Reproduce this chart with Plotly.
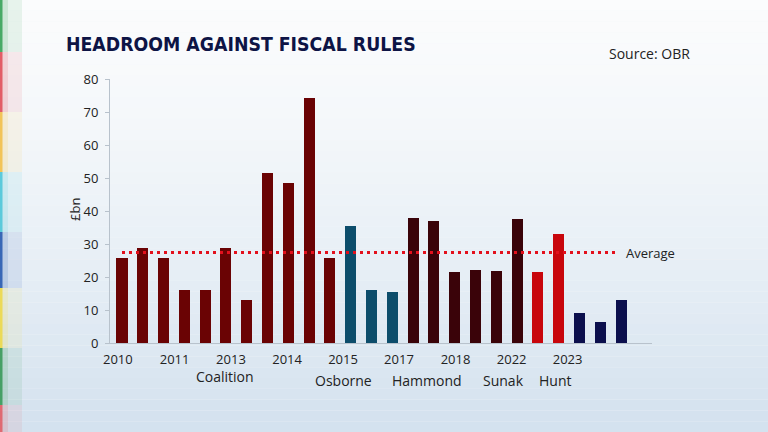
import plotly.graph_objects as go

# ---- data ----
values = [25.8, 28.9, 25.8, 16.2, 16.2, 28.9, 13.0, 51.6, 48.4, 74.2, 25.8,
          35.5, 16.2, 15.4,
          38.0, 36.9, 21.4, 22.1, 21.8, 37.7,
          21.4, 33.0,
          9.2, 6.5, 13.0]
groups = (["Coalition"] * 11 + ["Osborne"] * 3 + ["Hammond"] * 6 +
          ["Sunak"] * 2 + ["Hunt"] * 3)
group_names = ["Coalition", "Osborne", "Hammond", "Sunak", "Hunt"]
tick_labels = ["2010", "2011", "2013", "2014", "2015", "2017", "2018", "2022", "2023"]
average = 27.4

# ---- style ----
group_colors = {"Coalition": "#6a0304", "Osborne": "#0c4d6b", "Hammond": "#3a0309",
                "Sunak": "#c8060c", "Hunt": "#0b0f4d"}
tick_pos = [-0.2, 2.53, 5.24, 7.94, 10.63, 13.32, 16.04, 18.74, 21.43]
group_pos = {"Coalition": (4.94, -0.126), "Osborne": (10.65, -0.141),
             "Hammond": (14.67, -0.141), "Sunak": (18.33, -0.141), "Hunt": (20.83, -0.141)}

W, H = 768, 432
ML, MR, MT, MB = 110, 116, 79, 89
PW, PH = W - ML - MR, H - MT - MB

def px_x(p):  # figure pixel -> paper x
    return (p - ML) / PW

def px_y(p):  # figure pixel (from top) -> paper y
    return (H - MB - p) / PH

xs = list(range(len(values)))
fig = go.Figure()
fig.add_trace(go.Bar(x=xs, y=values, width=0.53,
                     marker=dict(color=[group_colors[g] for g in groups], line=dict(width=0)),
                     hoverinfo="y", showlegend=False))
fig.add_trace(go.Scatter(x=[0, len(values) - 1.2], y=[average, average], mode="lines",
                         line=dict(color="#e3101c", width=3, dash="3px,4px"),
                         showlegend=False, hoverinfo="skip"))

shapes = []
# background gradient (vertical bands)
n = 40
top = (251, 252, 253)
bot = (212, 226, 239)
for i in range(n):
    t = i / (n - 1)
    c = tuple(int(top[k] + (bot[k] - top[k]) * (t ** 1.4)) for k in range(3))
    shapes.append(dict(type="rect", xref="paper", yref="paper",
                       x0=px_x(0), x1=px_x(W), y0=px_y(H * (i + 1) / n), y1=px_y(H * i / n),
                       fillcolor="rgb(%d,%d,%d)" % c, line=dict(width=0), layer="below"))
# left edge coloured stripes
stripes = [(0, 52, "#3aa35a"), (52, 112, "#e0505a"), (112, 172, "#f2c04a"),
           (172, 232, "#4fc7d8"), (232, 288, "#2a5cb0"), (288, 348, "#ecd84a"),
           (348, 405, "#3a9a5a"), (405, 432, "#e06068")]
for y0, y1, col in stripes:
    shapes.append(dict(type="rect", xref="paper", yref="paper",
                       x0=px_x(0), x1=px_x(22), y0=px_y(y1), y1=px_y(y0),
                       fillcolor=col, opacity=0.10, line=dict(width=0), layer="below"))
    shapes.append(dict(type="rect", xref="paper", yref="paper",
                       x0=px_x(0), x1=px_x(8), y0=px_y(y1), y1=px_y(y0),
                       fillcolor=col, opacity=0.15, line=dict(width=0), layer="below"))
    shapes.append(dict(type="rect", xref="paper", yref="paper",
                       x0=px_x(0), x1=px_x(2.5), y0=px_y(y1), y1=px_y(y0),
                       fillcolor=col, opacity=0.9, line=dict(width=0), layer="below"))

annotations = [
    dict(text="HEADROOM AGAINST FISCAL RULES", xref="paper", yref="paper",
         x=px_x(64), y=px_y(44), xanchor="left", yanchor="middle", showarrow=False,
         font=dict(family="DejaVu Sans Condensed", size=19.3,
                   color="#0d1445", weight="bold")),
    dict(text="Source: OBR", xref="paper", yref="paper",
         x=px_x(692), y=px_y(53), xanchor="right", yanchor="middle", showarrow=False,
         font=dict(family="Open Sans", size=14, color="#222222")),
    dict(text="Average", xref="x", yref="y", x=len(values) - 0.85, y=average,
         xanchor="left", yanchor="middle", showarrow=False,
         font=dict(family="Open Sans", size=13, color="#222222")),
    dict(text="£bn", xref="paper", yref="paper", x=px_x(75), y=px_y(210),
         xanchor="center", yanchor="middle", textangle=-90, showarrow=False,
         font=dict(family="Open Sans", size=13, color="#222222")),
]
for g in group_names:
    gx, gy = group_pos[g]
    annotations.append(dict(text=g, xref="x", yref="paper", x=gx, y=gy,
                            xanchor="center", yanchor="middle", showarrow=False,
                            font=dict(family="Open Sans", size=14, color="#222222")))

fig.update_layout(
    width=W, height=H, margin=dict(l=ML, r=MR, t=MT, b=MB),
    paper_bgcolor="#f4f6f9", plot_bgcolor="rgba(0,0,0,0)",
    shapes=shapes, annotations=annotations, bargap=0,
    font=dict(family="Open Sans", size=13, color="#222222"),
    xaxis=dict(range=[-0.577, 25.49], tickmode="array", tickvals=tick_pos,
               ticktext=tick_labels, showgrid=False, zeroline=False,
               showline=True, linecolor="#b8c2cc", linewidth=1, ticks="",
               ticklabelstandoff=4, fixedrange=True),
    yaxis=dict(range=[0, 80], tickvals=[0, 10, 20, 30, 40, 50, 60, 70, 80],
               showgrid=False, zeroline=False, showline=True, linecolor="#b8c2cc",
               linewidth=1, ticks="outside", ticklen=4, tickcolor="#b8c2cc",
               ticklabelstandoff=4, fixedrange=True),
)
fig.write_html("out.html", config={"displayModeBar": False},
               post_script="document.body.style.margin='0';document.body.style.overflow='hidden';")
